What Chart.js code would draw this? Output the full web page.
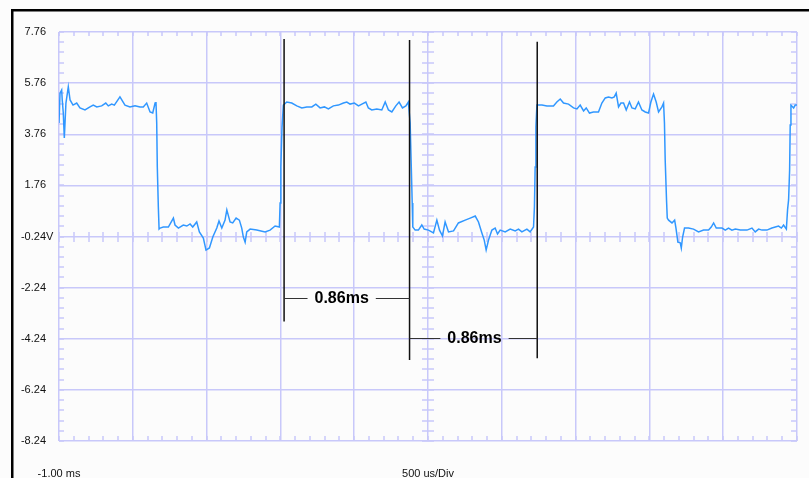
<!DOCTYPE html>
<html>
<head>
<meta charset="utf-8">
<title>Scope capture</title>
<script src="https://cdn.jsdelivr.net/npm/chart.js@4.4.1/dist/chart.umd.min.js"></script>
<style>
    html, body { margin: 0; padding: 0; background: #fcfcfc; }
    #wrap { width: 809px; height: 478px; }
</style>
</head>
<body>
<div id="wrap"><canvas id="scope" width="809" height="478"></canvas></div>
<script>
const timeMs = [
    -1.000, -0.993, -0.982, -0.978, -0.971, -0.964, -0.953, -0.937, -0.925, -0.905, -0.880, -0.858, -0.824, -0.790, -0.768, -0.744, -0.711, -0.683, -0.666, -0.643, -0.625, -0.587, -0.553, -0.519, -0.485, -0.451, -0.429, -0.406, -0.383, -0.365, -0.349, -0.343, -0.338, -0.334, -0.327, -0.322,
    -0.315, -0.293, -0.259, -0.225, -0.214, -0.191, -0.158, -0.134, -0.112, -0.094, -0.067, -0.049, -0.022, -0.004, 0.019, 0.042, 0.069, 0.084, 0.103, 0.125, 0.137, 0.159, 0.177, 0.200, 0.222, 0.238, 0.249, 0.261, 0.272, 0.295, 0.340, 0.396, 0.430, 0.464, 0.493, 0.498, 0.503, 0.511, 0.520,
    0.543, 0.577, 0.611, 0.645, 0.679, 0.713, 0.740, 0.769, 0.798, 0.825, 0.859, 0.893, 0.927, 0.950, 0.972, 1.001, 1.029, 1.052, 1.079, 1.096, 1.119, 1.153, 1.187, 1.210, 1.232, 1.255, 1.282, 1.304, 1.327, 1.350, 1.367, 1.379, 1.386, 1.393, 1.397,
    1.413, 1.435, 1.458, 1.474, 1.503, 1.537, 1.560, 1.578, 1.598, 1.616, 1.639, 1.673, 1.706, 1.752, 1.786, 1.820, 1.842, 1.865, 1.881, 1.894, 1.910, 1.933, 1.955, 1.971, 1.989, 2.023, 2.057, 2.091, 2.113, 2.136, 2.170, 2.192, 2.215, 2.221, 2.226, 2.231, 2.238,
    2.272, 2.306, 2.350, 2.373, 2.396, 2.418, 2.452, 2.486, 2.509, 2.531, 2.554, 2.572, 2.594, 2.621, 2.655, 2.678, 2.701, 2.723, 2.746, 2.762, 2.775, 2.791, 2.807, 2.825, 2.843, 2.865, 2.882, 2.904, 2.926, 2.949, 2.972, 2.994, 3.010, 3.028, 3.046, 3.062, 3.085, 3.096, 3.102, 3.107, 3.116, 3.121,
    3.130, 3.153, 3.171, 3.180, 3.193, 3.209, 3.216, 3.225, 3.238, 3.265, 3.299, 3.333, 3.367, 3.401, 3.419, 3.435, 3.453, 3.492, 3.514, 3.536, 3.559, 3.582, 3.616, 3.661, 3.695, 3.717, 3.740, 3.763, 3.796, 3.830, 3.853, 3.875, 3.894, 3.909, 3.928, 3.936, 3.943, 3.950, 3.954, 3.959, 3.977, 3.988, 4.000
];
const volts = [
    4.20, 5.37, 5.49, 5.10, 4.59, 3.61, 4.98, 5.61, 5.10, 4.90, 4.98, 4.79, 4.71, 4.83, 4.90, 4.83, 4.87, 4.98, 4.87, 4.94, 4.90, 5.22, 4.90, 4.83, 4.87, 4.83, 4.83, 4.98, 4.63, 4.59, 4.98, 5.02, 4.20, 2.48, 0.91, 0.05,
    0.09, 0.13, 0.13, 0.48, 0.21, 0.09, 0.21, 0.17, 0.25, 0.13, 0.33, -0.06, -0.30, -0.77, -0.69, -0.26, 0.09, 0.37, 0.09, 0.40, 0.80, 0.33, 0.29, 0.48, 0.40, 0.09, -0.26, -0.46, -0.06, 0.05, 0.01, -0.06, 0.01, 0.17, 0.13, 1.07, 2.48, 4.04, 4.90,
    5.02, 4.98, 4.87, 4.79, 4.83, 4.83, 4.94, 4.79, 4.83, 4.75, 4.87, 4.90, 4.98, 5.02, 4.94, 4.98, 4.87, 4.94, 5.02, 4.79, 4.71, 4.75, 4.71, 5.02, 4.71, 4.63, 4.87, 5.02, 4.79, 4.87, 5.02, 4.20, 2.64, 1.07, 0.13,
    0.01, 0.01, 0.21, 0.05, 0.01, -0.10, 0.40, 0.01, -0.22, 0.33, -0.06, -0.02, 0.29, 0.40, 0.48, 0.56, 0.33, -0.10, -0.38, -0.77, -0.38, 0.01, 0.09, -0.14, 0.01, -0.06, 0.05, -0.02, 0.05, -0.06, 0.05, -0.06, 0.13, 0.91, 2.48, 4.04, 4.90,
    4.90, 4.87, 4.87, 5.02, 5.14, 4.98, 4.94, 4.79, 4.75, 4.90, 4.67, 4.79, 4.59, 4.63, 4.63, 4.98, 5.18, 5.22, 5.18, 5.22, 5.37, 4.83, 4.98, 4.98, 4.71, 5.02, 4.79, 4.75, 5.02, 4.71, 4.63, 4.59, 5.02, 5.33, 5.02, 4.63, 4.83, 4.98, 4.20, 2.75, 1.19, 0.48,
    0.40, 0.29, 0.40, 0.09, -0.46, -0.49, -0.69, -0.26, 0.09, 0.09, 0.05, -0.06, 0.01, 0.01, 0.13, 0.29, 0.09, 0.09, 0.01, 0.09, 0.01, 0.05, 0.01, 0.01, 0.09, -0.06, 0.05, 0.01, 0.01, 0.09, 0.13, 0.17, 0.09, 0.21, 0.05, 0.80, 1.19, 2.36, 4.12, 4.90, 4.79, 4.90, 4.90
];

const xTicks = [-1, -0.5, 0, 0.5, 1, 1.5, 2, 2.5, 3, 3.5, 4];
const xTickLabels = ['-1.00 ms', '', '', '', '', '500 us/Div', '', '', '', '', ''];
const yTicks = [-8.24, -6.24, -4.24, -2.24, -0.24, 1.76, 3.76, 5.76, 7.76];
const yTickLabels = ['-8.24', '-6.24', '-4.24', '-2.24', '-0.24', '1.76', '3.76', '5.76', '7.76'];
const yUnitAt = -0.24;
const yUnit = 'V';

// measurement cursors
const cursorTimes = [0.525, 1.375, 2.24];
const cursorTops = [7.49, 7.45, 7.38];
const cursorBottoms = [-3.57, -5.07, -5.0];
const spanLevels = [-2.63, -4.20];
const spanLabelTimes = [0.915, 1.815];
const spanLabels = ['0.86ms', '0.86ms'];

const GRID = 'rgb(200, 200, 250)';
const FONT = '"Liberation Sans", Arial, sans-serif';

const frame = {
    id: 'frame',
    beforeDraw(chart) {
        const ctx = chart.ctx;
        ctx.save();
        ctx.fillStyle = '#fcfcfc';
        ctx.fillRect(0, 0, chart.width, chart.height);
        ctx.fillStyle = '#000';
        ctx.fillRect(11, 9, chart.width - 11, 2.5);
        ctx.fillRect(11, 9, 2.5, chart.height - 9);
        ctx.restore();
    }
};

// small division marks on the border and on the centre cross
const minorTicks = {
    id: 'minorTicks',
    beforeDatasetsDraw(chart) {
        const { ctx, chartArea: a, scales: { x, y } } = chart;
        const cx = Math.round(x.getPixelForValue(1.5));
        const cy = Math.round(y.getPixelForValue(-0.24));
        ctx.save();
        ctx.strokeStyle = GRID;
        ctx.lineWidth = 1.5;
        ctx.beginPath();
        for (let i = 0; i <= 50; i++) {
            const px = Math.round(x.getPixelForValue(-1 + i * 0.1));
            ctx.moveTo(px, a.top); ctx.lineTo(px, a.top + 4);
            ctx.moveTo(px, a.bottom); ctx.lineTo(px, a.bottom - 5);
            ctx.moveTo(px, cy - 5); ctx.lineTo(px, cy + 5);
        }
        for (let i = 0; i <= 40; i++) {
            const py = Math.round(y.getPixelForValue(-8.24 + i * 0.4));
            ctx.moveTo(a.left, py); ctx.lineTo(a.left + 5, py);
            ctx.moveTo(a.right, py); ctx.lineTo(a.right - 6, py);
            ctx.moveTo(cx - 6, py); ctx.lineTo(cx + 6, py);
        }
        ctx.stroke();
        ctx.restore();
    }
};

const spans = {
    id: 'spans',
    afterDatasetsDraw(chart) {
        const { ctx, scales: { x, y } } = chart;
        ctx.save();
        ctx.font = 'bold 16px ' + FONT;
        ctx.textAlign = 'center';
        ctx.textBaseline = 'middle';
        ctx.strokeStyle = '#333';
        ctx.fillStyle = '#000';
        ctx.lineWidth = 1.2;
        spanLabels.forEach((label, i) => {
            const xa = x.getPixelForValue(cursorTimes[i]);
            const xb = x.getPixelForValue(cursorTimes[i + 1]);
            const xc = x.getPixelForValue(spanLabelTimes[i]);
            const py = Math.round(y.getPixelForValue(spanLevels[i])) + 0.5;
            const half = ctx.measureText(label).width / 2 + 7;
            ctx.beginPath();
            ctx.moveTo(xa, py); ctx.lineTo(xc - half, py);
            ctx.moveTo(xc + half, py); ctx.lineTo(xb, py);
            ctx.stroke();
            ctx.fillText(label, xc, py);
        });
        // unit after the zero-level label
        ctx.font = '11px ' + FONT;
        ctx.textAlign = 'left';
        ctx.fillStyle = '#111';
        ctx.fillText(yUnit, chart.chartArea.left - 13, y.getPixelForValue(yUnitAt));
        ctx.restore();
    }
};

const datasets = [{
    data: timeMs.map((t, i) => ({ x: t, y: volts[i] })),
    borderColor: '#3097ff',
    borderWidth: 1.5,
    pointRadius: 0,
    tension: 0,
    order: 1
}];
cursorTimes.forEach((t, i) => {
    datasets.push({
        data: [{ x: t, y: cursorTops[i] }, { x: t, y: cursorBottoms[i] }],
        borderColor: '#111',
        borderWidth: 1.5,
        pointRadius: 0,
        order: 0
    });
});

new Chart(document.getElementById('scope').getContext('2d'), {
    type: 'line',
    data: { datasets },
    options: {
        responsive: false,
        animation: false,
        devicePixelRatio: 1,
        layout: { padding: { left: 12, top: 32, right: 12, bottom: 0 } },
        plugins: { legend: { display: false }, tooltip: { enabled: false } },
        scales: {
            x: {
                type: 'linear',
                min: -1,
                max: 4,
                afterBuildTicks: s => { s.ticks = xTicks.map(v => ({ value: v })); },
                afterFit: s => { s.height = 37; s.paddingLeft = 0; s.paddingRight = 0; },
                border: { display: false },
                grid: { color: GRID, lineWidth: 1.5, drawTicks: false },
                ticks: {
                    autoSkip: false,
                    maxRotation: 0,
                    padding: 26,
                    color: '#111',
                    font: { family: FONT, size: 11 },
                    callback: (v, i) => xTickLabels[i]
                }
            },
            y: {
                type: 'linear',
                min: -8.24,
                max: 7.76,
                afterBuildTicks: s => { s.ticks = yTicks.map(v => ({ value: v })); },
                afterFit: s => { s.width = 47; s.paddingTop = 0; s.paddingBottom = 0; },
                border: { display: false },
                grid: { color: GRID, lineWidth: 1.5, drawTicks: false },
                ticks: {
                    padding: 13,
                    color: '#111',
                    font: { family: FONT, size: 11 },
                    callback: (v, i) => yTickLabels[i]
                }
            }
        }
    },
    plugins: [frame, minorTicks, spans]
});
</script>
</body>
</html>
